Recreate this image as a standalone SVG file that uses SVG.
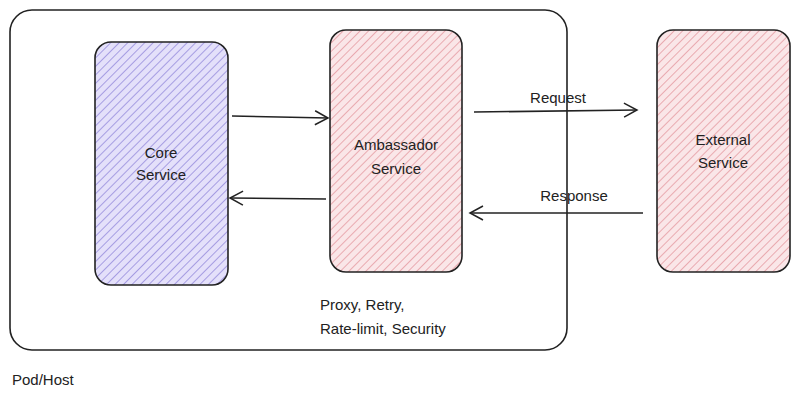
<svg xmlns="http://www.w3.org/2000/svg" width="800" height="400" viewBox="0 0 800 400">
<defs>
<pattern id="hp" width="6" height="6" patternUnits="userSpaceOnUse" patternTransform="rotate(45)">
<rect width="6" height="6" fill="#e4e0fa"/><line x1="0" y1="0" x2="0" y2="6" stroke="#9f96e0" stroke-width="1.8"/>
</pattern>
<pattern id="hr" width="6" height="6" patternUnits="userSpaceOnUse" patternTransform="rotate(45)">
<rect width="6" height="6" fill="#fae6e8"/><line x1="0" y1="0" x2="0" y2="6" stroke="#e8a3aa" stroke-width="1.8"/>
</pattern>
<marker id="ah" markerWidth="16" markerHeight="16" refX="14" refY="8" orient="auto" markerUnits="userSpaceOnUse">
<path d="M1,1 L14,8 L1,15" fill="none" stroke="#222" stroke-width="1.5"/>
</marker>
</defs>
<style>
.n{stroke:#222;stroke-width:1.6}
text{font-family:"Liberation Sans",sans-serif;font-size:15px;fill:#222}
.c{stroke:#222;stroke-width:1.6;fill:none;marker-end:url(#ah)}
</style>
<rect width="800" height="400" fill="#fff"/>
<g id="pod"><rect x="10" y="10" width="557" height="340" rx="22" fill="none" class="n"/>
<text x="12" y="385">Pod/Host</text></g>
<g id="core"><rect x="95" y="42" width="133" height="243" rx="16" fill="url(#hp)" class="n"/>
<text x="161" y="158" text-anchor="middle">Core</text><text x="161" y="180" text-anchor="middle">Service</text></g>
<g id="amb"><rect x="330" y="30" width="132" height="242" rx="16" fill="url(#hr)" class="n"/>
<text x="396" y="150" text-anchor="middle">Ambassador</text><text x="396" y="174" text-anchor="middle">Service</text>
<text x="320" y="310">Proxy, Retry,</text><text x="320" y="334">Rate-limit, Security</text></g>
<g id="ext"><rect x="657" y="30" width="133" height="242" rx="16" fill="url(#hr)" class="n"/>
<text x="723" y="145" text-anchor="middle">External</text><text x="723" y="168" text-anchor="middle">Service</text></g>
<g id="connectors">
<path class="c" d="M232,116 L328,118"/>
<path class="c" d="M326,199 L230,198"/>
<path class="c" d="M474,112 L637,110"/>
<text x="558" y="103" text-anchor="middle">Request</text>
<path class="c" d="M643,213 L470,213"/>
<text x="574" y="201" text-anchor="middle">Response</text>
</g>
</svg>
